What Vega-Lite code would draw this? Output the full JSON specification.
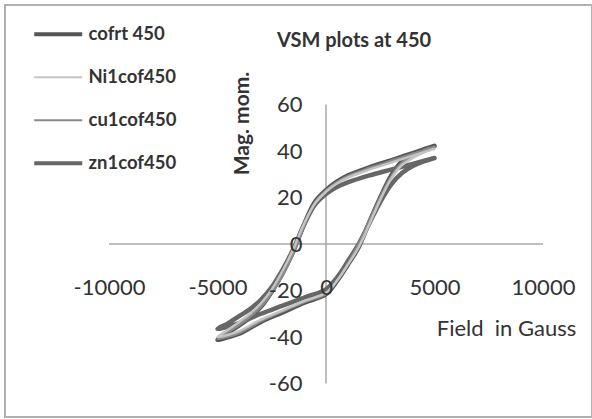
{
  "$schema": "https://vega.github.io/schema/vega-lite/v6.json",
  "autosize": {"type": "none"},
  "padding": {"left": 5, "top": 5, "right": 0, "bottom": 2},
  "width": 587,
  "height": 412,
  "background": "white",
  "title": {"text": "VSM plots at 450", "anchor": "start", "frame": "group", "dx": 272, "dy": 62, "offset": 0, "baseline": "alphabetic", "font": "Lato", "fontSize": 20, "fontWeight": "bold", "color": "#333333"},
  "config": {
    "view": {"stroke": "#b0b0b0", "strokeWidth": 2},
    "legend": {"orient": "none", "legendX": 44, "legendY": 20, "padding": 0, "symbolType": "M-2.4,0H2.4", "symbolSize": 400, "labelOffset": 21, "rowPadding": 24, "labelFont": "Lato", "labelFontSize": 18.5, "labelFontWeight": "bold", "labelColor": "#333333", "labelLimit": 300}
  },
  "datasets": {
    "xline": [{"h": -10000, "h2": 10000, "m": 0}],
    "yline": [{"h": 0, "m": -60, "m2": 60}],
    "loops": [
      {"s":"cofrt 450","i":0,"h":5000,"m":42.2},{"s":"cofrt 450","i":1,"h":4000,"m":39.1},{"s":"cofrt 450","i":2,"h":3000,"m":36},{"s":"cofrt 450","i":3,"h":2000,"m":33},{"s":"cofrt 450","i":4,"h":1000,"m":29.4},{"s":"cofrt 450","i":5,"h":500,"m":26.8},{"s":"cofrt 450","i":6,"h":0,"m":23.2},{"s":"cofrt 450","i":7,"h":-500,"m":18.3},{"s":"cofrt 450","i":8,"h":-1000,"m":8.7},{"s":"cofrt 450","i":9,"h":-1500,"m":-3},{"s":"cofrt 450","i":10,"h":-2000,"m":-12.5},{"s":"cofrt 450","i":11,"h":-2500,"m":-20.5},{"s":"cofrt 450","i":12,"h":-3000,"m":-27},{"s":"cofrt 450","i":13,"h":-3500,"m":-31.5},{"s":"cofrt 450","i":14,"h":-4000,"m":-35},{"s":"cofrt 450","i":15,"h":-4500,"m":-38.1},{"s":"cofrt 450","i":16,"h":-5000,"m":-41.2},{"s":"cofrt 450","i":17,"h":-4500,"m":-40},{"s":"cofrt 450","i":18,"h":-4000,"m":-38.6},{"s":"cofrt 450","i":19,"h":-3000,"m":-33.5},{"s":"cofrt 450","i":20,"h":-2000,"m":-29.4},{"s":"cofrt 450","i":21,"h":-1000,"m":-25.2},{"s":"cofrt 450","i":22,"h":0,"m":-21.6},{"s":"cofrt 450","i":23,"h":500,"m":-16},{"s":"cofrt 450","i":24,"h":1000,"m":-9},{"s":"cofrt 450","i":25,"h":1500,"m":-1.5},{"s":"cofrt 450","i":26,"h":2000,"m":9.5},{"s":"cofrt 450","i":27,"h":2500,"m":20},{"s":"cofrt 450","i":28,"h":3000,"m":29.4},{"s":"cofrt 450","i":29,"h":3500,"m":35.5},{"s":"cofrt 450","i":30,"h":4000,"m":38.6},{"s":"cofrt 450","i":31,"h":4500,"m":40.7},{"s":"cofrt 450","i":32,"h":5000,"m":42.2},
      {"s":"zn1cof450","i":0,"h":5000,"m":37},{"s":"zn1cof450","i":1,"h":4000,"m":34.5},{"s":"zn1cof450","i":2,"h":3000,"m":32},{"s":"zn1cof450","i":3,"h":2000,"m":29.5},{"s":"zn1cof450","i":4,"h":1000,"m":26.5},{"s":"zn1cof450","i":5,"h":500,"m":24.5},{"s":"zn1cof450","i":6,"h":0,"m":21.5},{"s":"zn1cof450","i":7,"h":-500,"m":17},{"s":"zn1cof450","i":8,"h":-1000,"m":8.5},{"s":"zn1cof450","i":9,"h":-1500,"m":-2},{"s":"zn1cof450","i":10,"h":-2000,"m":-11},{"s":"zn1cof450","i":11,"h":-2500,"m":-18.5},{"s":"zn1cof450","i":12,"h":-3000,"m":-24},{"s":"zn1cof450","i":13,"h":-3500,"m":-28},{"s":"zn1cof450","i":14,"h":-4000,"m":-31},{"s":"zn1cof450","i":15,"h":-4500,"m":-34},{"s":"zn1cof450","i":16,"h":-5000,"m":-36.5},{"s":"zn1cof450","i":17,"h":-4500,"m":-35.5},{"s":"zn1cof450","i":18,"h":-4000,"m":-34},{"s":"zn1cof450","i":19,"h":-3000,"m":-30},{"s":"zn1cof450","i":20,"h":-2000,"m":-26.5},{"s":"zn1cof450","i":21,"h":-1000,"m":-23},{"s":"zn1cof450","i":22,"h":0,"m":-19.5},{"s":"zn1cof450","i":23,"h":500,"m":-14.5},{"s":"zn1cof450","i":24,"h":1000,"m":-7.5},{"s":"zn1cof450","i":25,"h":1500,"m":0},{"s":"zn1cof450","i":26,"h":2000,"m":9},{"s":"zn1cof450","i":27,"h":2500,"m":18},{"s":"zn1cof450","i":28,"h":3000,"m":25.5},{"s":"zn1cof450","i":29,"h":3500,"m":30.5},{"s":"zn1cof450","i":30,"h":4000,"m":33.5},{"s":"zn1cof450","i":31,"h":4500,"m":35.5},{"s":"zn1cof450","i":32,"h":5000,"m":37},
      {"s":"cu1cof450","i":0,"h":5000,"m":41.8},{"s":"cu1cof450","i":1,"h":4000,"m":38.8},{"s":"cu1cof450","i":2,"h":3000,"m":35.8},{"s":"cu1cof450","i":3,"h":2000,"m":32.7},{"s":"cu1cof450","i":4,"h":1000,"m":29.2},{"s":"cu1cof450","i":5,"h":500,"m":26.6},{"s":"cu1cof450","i":6,"h":0,"m":23},{"s":"cu1cof450","i":7,"h":-500,"m":18},{"s":"cu1cof450","i":8,"h":-1000,"m":8},{"s":"cu1cof450","i":9,"h":-1500,"m":-4},{"s":"cu1cof450","i":10,"h":-2000,"m":-13.5},{"s":"cu1cof450","i":11,"h":-2500,"m":-21},{"s":"cu1cof450","i":12,"h":-3000,"m":-27},{"s":"cu1cof450","i":13,"h":-3500,"m":-31.2},{"s":"cu1cof450","i":14,"h":-4000,"m":-34.8},{"s":"cu1cof450","i":15,"h":-4500,"m":-37.8},{"s":"cu1cof450","i":16,"h":-5000,"m":-40.8},{"s":"cu1cof450","i":17,"h":-4500,"m":-39.8},{"s":"cu1cof450","i":18,"h":-4000,"m":-38.3},{"s":"cu1cof450","i":19,"h":-3000,"m":-33.2},{"s":"cu1cof450","i":20,"h":-2000,"m":-29},{"s":"cu1cof450","i":21,"h":-1000,"m":-25},{"s":"cu1cof450","i":22,"h":0,"m":-21.5},{"s":"cu1cof450","i":23,"h":500,"m":-16},{"s":"cu1cof450","i":24,"h":1000,"m":-8.5},{"s":"cu1cof450","i":25,"h":1500,"m":0},{"s":"cu1cof450","i":26,"h":2000,"m":10},{"s":"cu1cof450","i":27,"h":2500,"m":20.2},{"s":"cu1cof450","i":28,"h":3000,"m":29},{"s":"cu1cof450","i":29,"h":3500,"m":35},{"s":"cu1cof450","i":30,"h":4000,"m":38.3},{"s":"cu1cof450","i":31,"h":4500,"m":40.4},{"s":"cu1cof450","i":32,"h":5000,"m":41.8},
      {"s":"Ni1cof450","i":0,"h":5000,"m":41},{"s":"Ni1cof450","i":1,"h":4000,"m":38},{"s":"Ni1cof450","i":2,"h":3000,"m":35},{"s":"Ni1cof450","i":3,"h":2000,"m":32},{"s":"Ni1cof450","i":4,"h":1000,"m":28.5},{"s":"Ni1cof450","i":5,"h":500,"m":26},{"s":"Ni1cof450","i":6,"h":0,"m":22.5},{"s":"Ni1cof450","i":7,"h":-500,"m":17.5},{"s":"Ni1cof450","i":8,"h":-1000,"m":9},{"s":"Ni1cof450","i":9,"h":-1500,"m":-2},{"s":"Ni1cof450","i":10,"h":-2000,"m":-11.5},{"s":"Ni1cof450","i":11,"h":-2500,"m":-19.5},{"s":"Ni1cof450","i":12,"h":-3000,"m":-25.5},{"s":"Ni1cof450","i":13,"h":-3500,"m":-30},{"s":"Ni1cof450","i":14,"h":-4000,"m":-33.5},{"s":"Ni1cof450","i":15,"h":-4500,"m":-36.8},{"s":"Ni1cof450","i":16,"h":-5000,"m":-40},{"s":"Ni1cof450","i":17,"h":-4500,"m":-39},{"s":"Ni1cof450","i":18,"h":-4000,"m":-37.5},{"s":"Ni1cof450","i":19,"h":-3000,"m":-32.5},{"s":"Ni1cof450","i":20,"h":-2000,"m":-28.5},{"s":"Ni1cof450","i":21,"h":-1000,"m":-24.5},{"s":"Ni1cof450","i":22,"h":0,"m":-21},{"s":"Ni1cof450","i":23,"h":500,"m":-15.8},{"s":"Ni1cof450","i":24,"h":1000,"m":-9},{"s":"Ni1cof450","i":25,"h":1500,"m":-1.5},{"s":"Ni1cof450","i":26,"h":2000,"m":8.5},{"s":"Ni1cof450","i":27,"h":2500,"m":19},{"s":"Ni1cof450","i":28,"h":3000,"m":28},{"s":"Ni1cof450","i":29,"h":3500,"m":34},{"s":"Ni1cof450","i":30,"h":4000,"m":37},{"s":"Ni1cof450","i":31,"h":4500,"m":39.3},{"s":"Ni1cof450","i":32,"h":5000,"m":41}
    ]
  },
  "layer": [
    {
      "data": {"name": "xline"},
      "mark": {"type": "rule", "color": "#a8a8a8", "strokeWidth": 1.5},
      "encoding": {
        "x": {"field": "h", "type": "quantitative"},
        "x2": {"field": "h2"},
        "y": {"field": "m", "type": "quantitative"}
      }
    },
    {
      "data": {"name": "yline"},
      "mark": {"type": "rule", "color": "#a8a8a8", "strokeWidth": 1.5},
      "encoding": {
        "x": {"field": "h", "type": "quantitative"},
        "y": {"field": "m", "type": "quantitative"},
        "y2": {"field": "m2"}
      }
    },
    {
      "data": {"name": "loops"},
      "mark": {"type": "line", "interpolate": "catmull-rom", "strokeCap": "round", "strokeJoin": "round"},
      "encoding": {
        "x": {"field": "h", "type": "quantitative",
          "scale": {"domain": [-14793, 12258], "nice": false, "zero": false},
          "axis": {"values": [-10000, -5000, 0, 5000, 10000], "labelExpr": "'' + datum.value", "domain": false, "ticks": false, "grid": false, "offset": -173, "labelPadding": 33, "labelFont": "Lato", "labelFontSize": 22, "labelColor": "#333333", "labelFlush": false, "labelOverlap": false, "zindex": 1,
            "title": "Field\u00a0 in Gauss", "titleX": 501, "titleY": 84, "titleAlign": "center", "titleBaseline": "middle", "titleFont": "Lato", "titleFontSize": 22, "titleFontWeight": "normal", "titleColor": "#333333"}},
        "y": {"field": "m", "type": "quantitative",
          "scale": {"domain": [-74.4, 102.8], "nice": false, "zero": false},
          "axis": {"values": [-60, -40, -20, 0, 20, 40, 60], "labelExpr": "'' + datum.value", "domain": false, "ticks": false, "grid": false, "offset": -321, "labelPadding": 24, "labelFont": "Lato", "labelFontSize": 22, "labelColor": "#333333", "labelOverlap": false, "zindex": 1,
            "title": "Mag. mom.", "titleX": -84, "titleY": 118, "titleAngle": -90, "titleAlign": "center", "titleBaseline": "middle", "titleFont": "Lato", "titleFontSize": 21, "titleFontWeight": "bold", "titleColor": "#333333"}},
        "color": {"field": "s", "type": "nominal",
          "scale": {"domain": ["cofrt 450", "Ni1cof450", "cu1cof450", "zn1cof450"], "range": ["#555555", "#c4c4c4", "#8a8a8a", "#666666"]},
          "legend": {"title": null, "encode": {"symbols": {"update": {"strokeWidth": {"signal": "datum.value === 'cofrt 450' || datum.value === 'zn1cof450' ? 4 : 2"}}}}}},
        "strokeWidth": {"condition": {"test": "datum.s === 'cofrt 450' || datum.s === 'zn1cof450'", "value": 4.5}, "value": 2.5},
        "detail": {"field": "s", "type": "nominal"},
        "order": {"field": "i", "type": "quantitative"}
      }
    }
  ]
}
